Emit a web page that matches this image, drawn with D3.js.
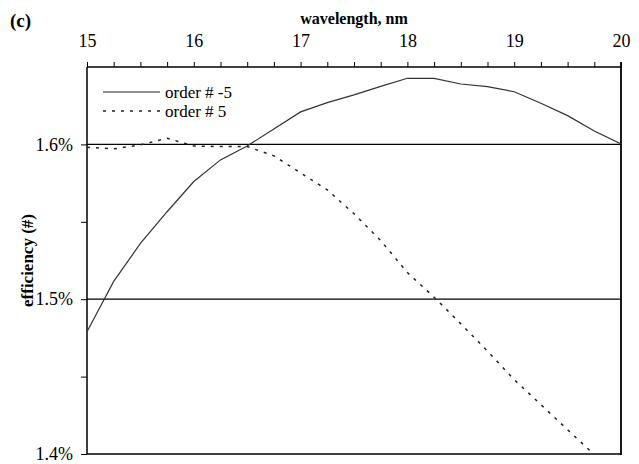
<!DOCTYPE html>
<html>
<head>
<meta charset="utf-8">
<script src="https://cdn.jsdelivr.net/npm/d3@7"></script>
<style>
  body { margin: 0; background: #fff; }
  svg { display: block; font-family: "Liberation Serif", "Times New Roman", serif; }
</style>
</head>
<body>
<div id="chart"></div>
<script>
// wavelength in nm, efficiency in %
const wavelengths = [15, 15.25, 15.5, 15.75, 16, 16.25, 16.5, 16.75, 17, 17.25, 17.5, 17.75,
                     18, 18.25, 18.5, 18.75, 19, 19.25, 19.5, 19.75, 20]
const orderMinus5 = [1.479, 1.5115, 1.536, 1.5565, 1.576, 1.590, 1.599, 1.610, 1.621, 1.627, 1.632, 1.6375,
                     1.6427, 1.6427, 1.639, 1.6373, 1.634, 1.6266, 1.6186, 1.6087, 1.6003]
const orderPlus5 = [1.5982, 1.5971, 1.5997, 1.604, 1.599, 1.5986, 1.5986, 1.5926, 1.5816, 1.5706, 1.5552, 1.5379,
                    1.5172, 1.5013, 1.4841, 1.4665, 1.448, 1.4319, 1.4157, 1.3995, 1.384]
const xLabels = [15, 16, 17, 18, 19, 20]
const yLabels = [1.4, 1.5, 1.6]
const yMinor = [1.45, 1.55]
const legendNames = ['order # -5', 'order # 5']

const w = 639
const h = 464
const margin = {top: 67, right: 18, bottom: 10, left: 87}

const svg = d3.select('#chart')
    .append('svg')
    .attr('width', w)
    .attr('height', h)

const x = d3.scaleLinear().domain([15, 20]).range([margin.left, w - margin.right])
const y = d3.scaleLinear().domain([1.4, 1.65]).range([h - margin.bottom, margin.top])

svg.append('defs').append('clipPath').attr('id', 'plot-clip')
    .append('rect')
    .attr('x', x(15)).attr('y', y(1.65))
    .attr('width', x(20) - x(15)).attr('height', y(1.4) - y(1.65))

// gridlines
svg.selectAll('.grid')
    .data([1.5, 1.6])
    .enter()
    .append('line')
    .attr('x1', x(15)).attr('x2', x(20))
    .attr('y1', d => y(d)).attr('y2', d => y(d))
    .attr('stroke', '#000')
    .attr('stroke-width', 1.2)

// top x axis
const xTicks = d3.range(15, 20.001, 0.25)
const xAxis = svg.append('g')
    .attr('transform', `translate(0, ${y(1.65)})`)
    .call(d3.axisTop(x).tickValues(xTicks).tickSize(5).tickFormat(d => xLabels.includes(d) ? d : ''))
xAxis.select('.domain').attr('stroke-width', 1.3).attr('d', `M${x(15)},0H${x(20)}`)
xAxis.selectAll('.tick line').attr('stroke-width', 1)
xAxis.selectAll('text')
    .attr('font-size', 18)
    .attr('font-family', 'Liberation Serif')
    .attr('dy', 0)
    .attr('y', -20)

// left y axis
const yAxis = svg.append('g')
    .attr('transform', `translate(${x(15)}, 0)`)
    .call(d3.axisLeft(y).tickValues(yLabels.concat(yMinor)).tickSize(6)
        .tickFormat(d => yLabels.includes(d) ? d.toFixed(1) + '%' : ''))
yAxis.select('.domain').attr('stroke-width', 1.5).attr('d', `M0,${y(1.4)}V${y(1.65)}`)
yAxis.selectAll('text')
    .attr('font-size', 18)
    .attr('font-family', 'Liberation Serif')
    .attr('x', -14)

// right and bottom frame
svg.append('line')
    .attr('x1', x(20)).attr('x2', x(20))
    .attr('y1', y(1.65) - 5).attr('y2', y(1.4) + 1)
    .attr('stroke', '#000').attr('stroke-width', 1.8)
svg.append('line')
    .attr('x1', x(15)).attr('x2', x(20))
    .attr('y1', y(1.4)).attr('y2', y(1.4))
    .attr('stroke', '#000').attr('stroke-width', 1.5)

const line = d3.line()
    .x((d, i) => x(wavelengths[i]))
    .y(d => y(d))

const plot = svg.append('g').attr('clip-path', 'url(#plot-clip)')

plot.append('path')
    .datum(orderMinus5)
    .attr('d', line)
    .attr('fill', 'none')
    .attr('stroke', '#333')
    .attr('stroke-width', 1.2)

plot.append('path')
    .datum(orderPlus5)
    .attr('d', line)
    .attr('fill', 'none')
    .attr('stroke', '#222')
    .attr('stroke-width', 1.5)
    .attr('stroke-dasharray', '3,6')

// legend
const legend = svg.append('g')
legendNames.forEach((name, i) => {
    const ly = 92 + i * 19
    legend.append('line')
        .attr('x1', 103).attr('x2', 160)
        .attr('y1', ly).attr('y2', ly)
        .attr('stroke', '#222')
        .attr('stroke-width', i === 0 ? 1.2 : 1.5)
        .attr('stroke-dasharray', i === 0 ? null : '3,6')
    legend.append('text')
        .attr('x', 165).attr('y', ly + 6)
        .attr('font-size', 17)
        .text(name)
})

// titles
svg.append('text')
    .attr('x', 10).attr('y', 27)
    .attr('font-size', 19)
    .attr('font-weight', 'bold')
    .text('(c)')

svg.append('text')
    .attr('x', (x(15) + x(20)) / 2).attr('y', 24)
    .attr('text-anchor', 'middle')
    .attr('font-size', 16)
    .attr('font-weight', 'bold')
    .text('wavelength, nm')

svg.append('text')
    .attr('transform', `translate(33, ${(y(1.4) + y(1.65)) / 2}) rotate(-90)`)
    .attr('text-anchor', 'middle')
    .attr('font-size', 17)
    .attr('font-weight', 'bold')
    .text('efficiency (#)')
</script>
</body>
</html>
